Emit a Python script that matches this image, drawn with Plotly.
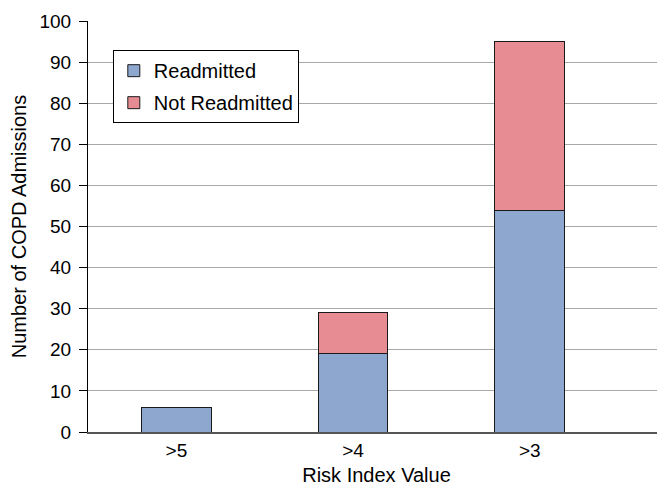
import plotly.graph_objects as go

categories = [">5", ">4", ">3"]
readmitted = [6, 19, 54]
not_readmitted = [0, 10, 41]

fig = go.Figure()
fig.add_trace(go.Bar(
    x=categories, y=readmitted, name="Readmitted", legendgroup="a",
    marker=dict(color="#8DA7CF", line=dict(color="#1a1a1a", width=1)),
    width=0.395,
))
fig.add_trace(go.Bar(
    x=categories, y=not_readmitted, name="Not Readmitted", legendgroup="b",
    marker=dict(color="#E68C92", line=dict(color="#1a1a1a", width=1)),
    width=0.395,
))

# page body has an 8px default margin, so the figure is sized to fit the window
fig.update_layout(
    barmode="stack",
    width=657, height=478,
    margin=dict(l=80, r=0, t=13, b=54),
    paper_bgcolor="white", plot_bgcolor="white",
    font=dict(family="Liberation Sans, Arial, sans-serif", size=19, color="black"),
    showlegend=True,
    legend=dict(
        x=0.043, y=0.929, xanchor="left", yanchor="top",
        bordercolor="black", borderwidth=1, bgcolor="white",
        traceorder="grouped", tracegroupgap=3,
        font=dict(size=20),
    ),
    xaxis=dict(
        type="category", range=[-0.5, 2.765], automargin=False,
        showgrid=False, ticks="", showline=True, linecolor="#555555", linewidth=2,
        title=dict(text="Risk Index Value", font=dict(size=20)),
        tickfont=dict(size=19),
    ),
    yaxis=dict(
        range=[0, 100], dtick=10, tick0=0,
        showgrid=True, gridcolor="#A8A8A8", gridwidth=1,
        ticks="outside", ticklen=8, tickcolor="black",
        showline=True, linecolor="black", linewidth=1,
        zeroline=False, ticklabelstandoff=4,
        title=dict(text="Number of COPD Admissions", standoff=10, font=dict(size=20)),
        tickfont=dict(size=19),
    ),
)

fig.write_html("out.html")
